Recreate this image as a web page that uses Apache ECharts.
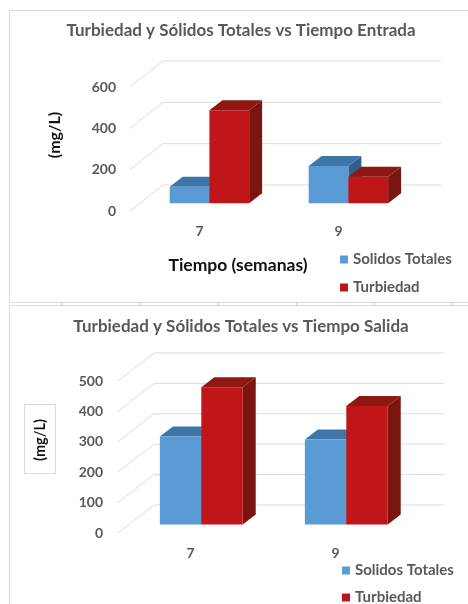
<!DOCTYPE html>
<html>
<head>
<meta charset="utf-8">
<script src="https://cdn.jsdelivr.net/npm/echarts@6/dist/echarts.min.js"></script>
<style>
  html, body { margin: 0; padding: 0; background: #fff; }
  #chart { width: 468px; height: 604px; }
</style>
</head>
<body>
<div id="chart"></div>
<script>
// Weeks sampled
const weeks = ['7', '9'];

// Entrada (inlet) measurements, mg/L
const entradaSolidos = [80, 180];
const entradaTurbiedad = [450, 128];

// Salida (outlet) measurements, mg/L
const salidaSolidos = [290, 280];
const salidaTurbiedad = [452, 390];

// Value-axis gridline levels
const entradaTicks = [0, 200, 400, 600];
const salidaTicks = [0, 100, 200, 300, 400, 500];

const FONT = 'Lato, "Open Sans", sans-serif';
const GRID_COLOR = '#e0d9d9';

const BLUE = { front: '#5b9bd5', top: '#3f76aa', side: '#2f5f8c' };
const RED = { front: '#c0161a', top: '#8f1712', side: '#7a1510' };

// Oblique depth of each chart's floor (pixels)
const depthTop = { dx: 33, dy: 26 };
const depthBottom = { dx: 36, dy: 28 };
const BAR_DEPTH = { dx: 13, dy: 10 };
const BAR_OFFSET = 0.3; // bars sit 30% back into the floor

// Back-wall gridline: diagonal on the side wall, then across the back wall
function gridRenderer(depth) {
  return function (params, api) {
    const cs = params.coordSys;
    const y = api.coord([0, api.value(1)])[1];
    return {
      type: 'polyline',
      shape: { points: [[cs.x, y], [cs.x + depth.dx, y - depth.dy], [cs.x + cs.width + depth.dx, y - depth.dy]] },
      style: { stroke: GRID_COLOR, lineWidth: 1, fill: null }
    };
  };
}

// 3D column: front face, top face, right side face
function barRenderer(depth, slot, colors) {
  return function (params, api) {
    const cat = api.value(0);
    const val = api.value(1);
    const top = api.coord([cat, val]);
    const base = api.coord([cat, 0]);
    const band = api.size([1, 0])[0];
    const bw = band / 3.5;
    const ox = depth.dx * BAR_OFFSET;
    const oy = depth.dy * BAR_OFFSET;
    const x0 = top[0] - bw + slot * bw + ox;
    const x1 = x0 + bw;
    const yT = top[1] - oy;
    const yB = base[1] - oy;
    const bx = BAR_DEPTH.dx, by = BAR_DEPTH.dy;
    return {
      type: 'group',
      children: [
        { type: 'polygon', shape: { points: [[x1, yT], [x1 + bx, yT - by], [x1 + bx, yB - by], [x1, yB]] }, style: { fill: colors.side } },
        { type: 'polygon', shape: { points: [[x0, yT], [x1, yT], [x1 + bx, yT - by], [x0 + bx, yT - by]] }, style: { fill: colors.top } },
        { type: 'rect', shape: { x: x0, y: yT, width: bw, height: yB - yT }, style: { fill: colors.front } }
      ]
    };
  };
}

function pairs(values) { return values.map((v, i) => [i, v]); }
function tickData(ticks) { return ticks.map(v => [0, v]); }

const chart = echarts.init(document.getElementById('chart'), null, { renderer: 'canvas' });

const axisLabelStyle = { color: '#595959', fontWeight: 'bold', fontSize: 14, fontFamily: FONT };
const legendText = { color: '#595959', fontSize: 15, fontWeight: 'bold', fontFamily: FONT };

const option = {
  backgroundColor: '#fff',
  animation: false,
  grid: [
    { left: 130, width: 278, top: 87, height: 124 },
    { left: 118, width: 290, top: 381, height: 152 }
  ],
  xAxis: [
    { type: 'category', gridIndex: 0, data: weeks, axisLine: { show: false }, axisTick: { show: false },
      axisLabel: Object.assign({ margin: 13 }, axisLabelStyle) },
    { type: 'category', gridIndex: 1, data: weeks, axisLine: { show: false }, axisTick: { show: false },
      axisLabel: Object.assign({ margin: 13 }, axisLabelStyle) }
  ],
  yAxis: [
    { type: 'value', gridIndex: 0, min: 0, max: 600, interval: 200, splitLine: { show: false },
      axisLine: { show: false }, axisTick: { show: false }, axisLabel: Object.assign({ margin: 14 }, axisLabelStyle) },
    { type: 'value', gridIndex: 1, min: 0, max: 500, interval: 100, splitLine: { show: false },
      axisLine: { show: false }, axisTick: { show: false }, axisLabel: Object.assign({ margin: 15 }, axisLabelStyle) }
  ],
  legend: [
    { orient: 'vertical', left: 340, top: 252, width: 120, height: 60, padding: 0, itemWidth: 8, itemHeight: 8, itemGap: 13, icon: 'rect',
      textStyle: legendText, data: ['Solidos Totales', 'Turbiedad'] },
    { orient: 'vertical', left: 342, top: 563, width: 120, height: 60, padding: 0, itemWidth: 8, itemHeight: 8, itemGap: 12, icon: 'rect',
      textStyle: legendText, data: ['Solidos Totales', 'Turbiedad'] }
  ],
  series: [
    { type: 'custom', name: 'gridTop', xAxisIndex: 0, yAxisIndex: 0, z: 1, silent: true,
      renderItem: gridRenderer(depthTop), data: tickData(entradaTicks) },
    { type: 'custom', name: 'Solidos Totales', xAxisIndex: 0, yAxisIndex: 0, z: 2, itemStyle: { color: BLUE.front },
      renderItem: barRenderer(depthTop, 0, BLUE), data: pairs(entradaSolidos) },
    { type: 'custom', name: 'Turbiedad', xAxisIndex: 0, yAxisIndex: 0, z: 3, itemStyle: { color: RED.front },
      renderItem: barRenderer(depthTop, 1, RED), data: pairs(entradaTurbiedad) },

    { type: 'custom', name: 'gridBottom', xAxisIndex: 1, yAxisIndex: 1, z: 1, silent: true,
      renderItem: gridRenderer(depthBottom), data: tickData(salidaTicks) },
    { type: 'custom', name: 'Solidos Totales', xAxisIndex: 1, yAxisIndex: 1, z: 2, itemStyle: { color: BLUE.front },
      renderItem: barRenderer(depthBottom, 0, BLUE), data: pairs(salidaSolidos) },
    { type: 'custom', name: 'Turbiedad', xAxisIndex: 1, yAxisIndex: 1, z: 3, itemStyle: { color: RED.front },
      renderItem: barRenderer(depthBottom, 1, RED), data: pairs(salidaTurbiedad) }
  ],
  graphic: [
    // chart frames and the sheet gridline between them
    { type: 'rect', z: 0, shape: { x: 9.5, y: 10.5, width: 470, height: 292 }, style: { fill: null, stroke: '#dadada', lineWidth: 1 } },
    { type: 'rect', z: 0, shape: { x: 9.5, y: 305.5, width: 470, height: 320 }, style: { fill: null, stroke: '#dadada', lineWidth: 1 } },
    ...[61, 139, 218, 296, 374, 452].map(x => ({ type: 'line', z: 0, shape: { x1: x + 0.5, y1: 302, x2: x + 0.5, y2: 305 }, style: { stroke: '#d0d0d0', lineWidth: 1 } })),

    { type: 'text', x: 241, y: 31, style: { text: 'Turbiedad y Sólidos Totales vs Tiempo Entrada', fill: '#595959', font: 'bold 17px ' + FONT, textAlign: 'center', textVerticalAlign: 'middle' } },
    { type: 'text', x: 55, y: 135, rotation: Math.PI / 2, style: { text: '(mg/L)', fill: '#111', font: 'bold 16px ' + FONT, textAlign: 'center', textVerticalAlign: 'middle' } },
    { type: 'text', x: 238, y: 265, style: { text: 'Tiempo (semanas)', fill: '#111', font: 'bold 17.5px ' + FONT, textAlign: 'center', textVerticalAlign: 'middle' } },

    { type: 'text', x: 241, y: 327, style: { text: 'Turbiedad y Sólidos Totales vs Tiempo Salida', fill: '#595959', font: 'bold 17px ' + FONT, textAlign: 'center', textVerticalAlign: 'middle' } },
    { type: 'rect', shape: { x: 24.5, y: 404.5, width: 31, height: 69 }, style: { fill: '#fff', stroke: '#dadada', lineWidth: 1 } },
    { type: 'text', x: 40, y: 440, rotation: Math.PI / 2, style: { text: '(mg/L)', fill: '#111', font: 'bold 14.5px ' + FONT, textAlign: 'center', textVerticalAlign: 'middle' } }
  ]
};

chart.setOption(option);
</script>
</body>
</html>
